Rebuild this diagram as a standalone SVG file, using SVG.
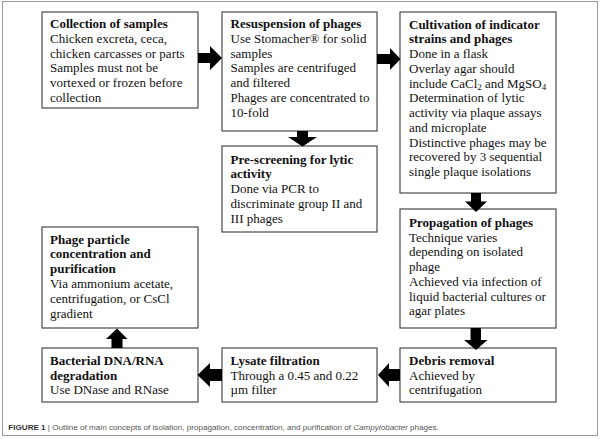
<svg xmlns="http://www.w3.org/2000/svg" width="600" height="439" viewBox="0 0 600 439">
<style>
.box{fill:#fff;stroke:#4a4a4a;stroke-width:1.2}
.t{font-family:"Liberation Serif","Times New Roman",serif;font-size:13px;fill:#111}
.b{font-weight:bold}
.arr{fill:#000}
.cap{font-family:"Liberation Sans",Arial,sans-serif;font-size:8.1px;fill:#555}
.sub{font-size:9px}
</style>
<rect x="0" y="0" width="600" height="439" fill="#fff"/>
<rect x="2.5" y="1.5" width="595" height="434" fill="none" stroke="#999" stroke-width="1"/>

<g id="n1">
<rect class="box" x="42" y="12" width="156" height="96"/>
<text class="t" x="50" y="28"><tspan class="b">Collection of samples</tspan><tspan x="50" dy="14.8">Chicken excreta, ceca,</tspan><tspan x="50" dy="14.8">chicken carcasses or parts</tspan><tspan x="50" dy="14.8">Samples must not be</tspan><tspan x="50" dy="14.8">vortexed or frozen before</tspan><tspan x="50" dy="14.8">collection</tspan></text>
</g>

<g id="n2">
<rect class="box" x="222" y="12" width="155" height="119"/>
<text class="t" x="230.5" y="28"><tspan class="b">Resuspension of phages</tspan><tspan x="230.5" dy="14.8">Use Stomacher® for solid</tspan><tspan x="230.5" dy="14.8">samples</tspan><tspan x="230.5" dy="14.8">Samples are centrifuged</tspan><tspan x="230.5" dy="14.8">and filtered</tspan><tspan x="230.5" dy="14.8">Phages are concentrated to</tspan><tspan x="230.5" dy="14.8">10-fold</tspan></text>
</g>

<g id="n3">
<rect class="box" x="222" y="146" width="155" height="86"/>
<text class="t" x="230.5" y="163.5"><tspan class="b">Pre-screening for lytic</tspan><tspan x="230.5" dy="14.8" class="b">activity</tspan><tspan x="230.5" dy="14.8">Done via PCR to</tspan><tspan x="230.5" dy="14.8">discriminate group II and</tspan><tspan x="230.5" dy="14.8">III phages</tspan></text>
</g>

<g id="n4">
<rect class="box" x="400" y="12" width="156" height="181"/>
<text class="t" x="409" y="28.5"><tspan class="b">Cultivation of indicator</tspan><tspan x="409" dy="14.75" class="b">strains and phages</tspan><tspan x="409" dy="14.75">Done in a flask</tspan><tspan x="409" dy="14.75">Overlay agar should</tspan><tspan x="409" dy="14.75">include CaCl</tspan><tspan class="sub" dy="2">2</tspan><tspan dy="-2"> and MgSO</tspan><tspan class="sub" dy="2">4</tspan><tspan x="409" dy="12.75">Determination of lytic</tspan><tspan x="409" dy="14.75">activity via plaque assays</tspan><tspan x="409" dy="14.75">and microplate</tspan><tspan x="409" dy="14.75">Distinctive phages may be</tspan><tspan x="409" dy="14.75">recovered by 3 sequential</tspan><tspan x="409" dy="14.75">single plaque isolations</tspan></text>
</g>

<g id="n5">
<rect class="box" x="400" y="209" width="156" height="119"/>
<text class="t" x="409" y="227"><tspan class="b">Propagation of phages</tspan><tspan x="409" dy="14.7">Technique varies</tspan><tspan x="409" dy="14.7">depending on isolated</tspan><tspan x="409" dy="14.7">phage</tspan><tspan x="409" dy="14.7">Achieved via infection of</tspan><tspan x="409" dy="14.7">liquid bacterial cultures or</tspan><tspan x="409" dy="14.7">agar plates</tspan></text>
</g>

<g id="n6">
<rect class="box" x="400" y="348" width="156" height="54"/>
<text class="t" x="409" y="365"><tspan class="b">Debris removal</tspan><tspan x="409" dy="14.6">Achieved by</tspan><tspan x="409" dy="14.6">centrifugation</tspan></text>
</g>

<g id="n7">
<rect class="box" x="222" y="348" width="155" height="54"/>
<text class="t" x="230.5" y="365"><tspan class="b">Lysate filtration</tspan><tspan x="230.5" dy="14.6">Through a 0.45 and 0.22</tspan><tspan x="230.5" dy="14.6">µm filter</tspan></text>
</g>

<g id="n8">
<rect class="box" x="42" y="348" width="156" height="54"/>
<text class="t" x="50" y="365"><tspan class="b">Bacterial DNA/RNA</tspan><tspan x="50" dy="14.7" class="b">degradation</tspan><tspan x="50" dy="14.7">Use DNase and RNase</tspan></text>
</g>

<g id="n9">
<rect class="box" x="42" y="227" width="156" height="101"/>
<text class="t" x="50" y="243.6"><tspan class="b">Phage particle</tspan><tspan x="50" dy="14.8" class="b">concentration and</tspan><tspan x="50" dy="14.8" class="b">purification</tspan><tspan x="50" dy="14.8">Via ammonium acetate,</tspan><tspan x="50" dy="14.8">centrifugation, or CsCl</tspan><tspan x="50" dy="14.8">gradient</tspan></text>
</g>

<g id="connectors">
<polygon class="arr" points="198,53 210,53 210,46 222,58 210,70 210,63 198,63"/>
<polygon class="arr" points="377,54 390,54 390,48 400.5,59 390,70 390,64 377,64"/>
<polygon class="arr" points="297,131 308,131 308,137 317,137 302.5,146.5 288,137 297,137"/>
<polygon class="arr" points="471,193 481,193 481,201.5 487,201.5 476,212 465,201.5 471,201.5"/>
<polygon class="arr" points="470.5,328 481,328 481,340 487.5,340 476,350 464,340 470.5,340"/>
<polygon class="arr" points="400,369 389,369 389,363 378,375 389,387 389,381 400,381"/>
<polygon class="arr" points="222,369 210,369 210,363 197.5,375 210,387 210,381 222,381"/>
<polygon class="arr" points="111.5,348 122.5,348 122.5,339 127.5,339 117,328.5 106,339 111.5,339"/>
</g>

<text class="cap" x="8.3" y="430"><tspan font-weight="bold" fill="#333">FIGURE 1</tspan> | Outline of main concepts of isolation, propagation, concentration, and purification of <tspan font-style="italic">Campylobacter</tspan> phages.</text>
</svg>
